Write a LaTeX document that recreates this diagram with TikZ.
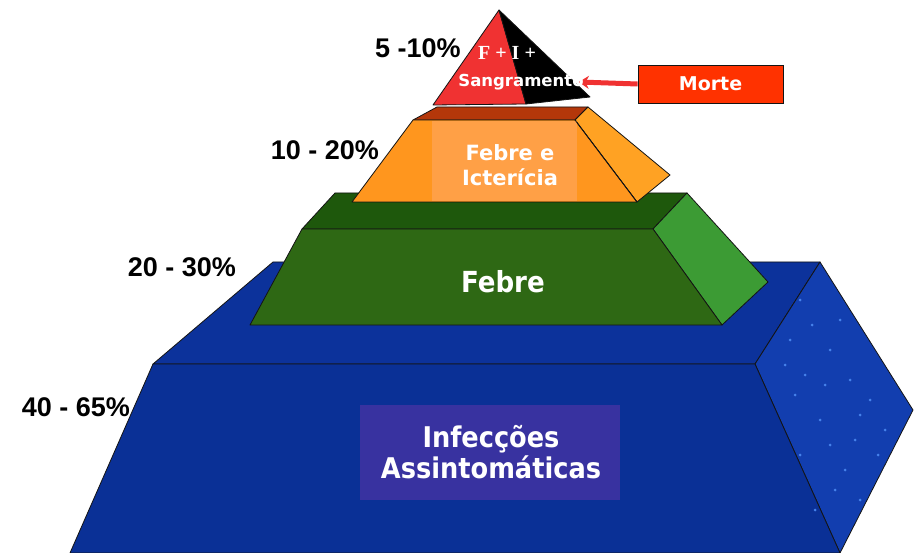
\documentclass[tikz,border=0pt]{standalone}
\usepackage{fontspec}
\setmainfont{Liberation Sans}
\newfontfamily\dvs{DejaVu Sans}
\newfontfamily\dvsc{DejaVu Sans Condensed}
\newfontfamily\lserif{Liberation Serif}
\usetikzlibrary{arrows.meta}
\pgfdeclarelayer{fg}
\pgfsetlayers{main,fg}
\definecolor{bluefront}{RGB}{10,48,150}
\definecolor{bluetop}{RGB}{12,50,155}
\definecolor{blueside}{RGB}{18,62,175}
\definecolor{bluedot}{RGB}{70,130,235}
\definecolor{infbox}{RGB}{56,50,160}
\definecolor{grfront}{RGB}{46,104,20}
\definecolor{grtop}{RGB}{30,88,12}
\definecolor{grside}{RGB}{60,155,52}
\definecolor{orfront}{RGB}{255,150,30}
\definecolor{orlight}{RGB}{255,160,70}
\definecolor{orside}{RGB}{255,162,35}
\definecolor{ortop}{RGB}{180,55,10}
\definecolor{trired}{RGB}{240,50,50}
\definecolor{mortered}{RGB}{255,50,0}
\definecolor{edge}{RGB}{20,20,20}
\tikzset{
  face/.style={draw=edge, line width=0.8pt, line join=round},
  pct/.style={font=\bfseries\fontsize{27}{30}\selectfont, text=black, inner sep=0pt},
  wlabel/.style={text=white, inner sep=0pt, align=center},
}
\begin{document}
\begin{tikzpicture}[x=1pt,y=-1pt]
\useasboundingbox (0,0) rectangle (915,553);
\fill[white] (0,0) rectangle (915,553);
% ---- blue block
\fill[face, fill=bluetop] (273,262) -- (820,262) -- (755,364) -- (153,364) -- cycle;
\fill[face, fill=blueside] (820,262) -- (913,410) -- (840,553) -- (755,364) -- cycle;
\fill[face, fill=bluefront] (153,364) -- (755,364) -- (840,553) -- (70,553) -- cycle;
\foreach \p in {(800,300),(812,325),(790,340),(830,350),(850,380),(795,395),(870,400),(820,420),(885,430),(800,455),(845,470),(860,500),(815,510),(830,445),(878,455),(805,375),(840,320),(860,415),(785,365),(825,385),(855,440),(835,490)}
  \fill[bluedot] \p circle (1.5);
% ---- green block
\fill[face, fill=grtop] (335,193) -- (687,193) -- (653,229) -- (302,229) -- cycle;
\fill[face, fill=grside] (687,193) -- (768,282) -- (722,325) -- (653,229) -- cycle;
\fill[face, fill=grfront] (302,229) -- (653,229) -- (722,325) -- (250,325) -- cycle;
% ---- orange block
\fill[face, fill=ortop] (437,107) -- (588,107) -- (575,120) -- (413,120) -- cycle;
\fill[face, fill=orside] (588,107) -- (670,175) -- (637,202) -- (575,120) -- cycle;
\fill[face, fill=orfront] (413,120) -- (575,120) -- (637,202) -- (352,202) -- cycle;
\fill[orlight] (432,121) rectangle (577,201.5);
\draw[face] (575,120) -- (637,202);
% ---- top triangle
\fill[face, fill=trired] (499,10) -- (526,104) -- (433,105) -- cycle;
\fill[face, fill=black] (499,10) -- (590,97) -- (526,104) -- cycle;
% ---- box behind asymptomatic text
\fill[infbox] (360,405) rectangle (620,500);
% ---- texts
\node[wlabel, font=\dvsc\bfseries\fontsize{28.5}{31}\selectfont] (inf) at (491,452) {Infecções\\Assintomáticas};
\node[wlabel, font=\dvsc\bfseries\fontsize{29}{32}\selectfont] (febre) at (503,282) {Febre};
\node[wlabel, font=\dvs\bfseries\fontsize{21}{25}\selectfont] (icter) at (510,165) {Febre e\\Icterícia};
\node[wlabel, font=\lserif\bfseries\fontsize{20}{22}\selectfont] (fi) at (507,53) {F + I +};
\begin{pgfonlayer}{fg}
\node[wlabel, font=\dvs\bfseries\fontsize{16.5}{18}\selectfont] (sang) at (521,82) {Sangramento};
\end{pgfonlayer}
\node[draw=edge, line width=0.8pt, fill=mortered, minimum width=145pt, minimum height=38pt, inner sep=0pt,
      text=white, font=\dvs\bfseries\fontsize{19}{22}\selectfont] (morte) at (710.5,84) {Morte};
\draw[trired, line width=5pt, -{Stealth[length=10pt,width=13pt]}] (morte.west) -- ([xshift=-5pt]sang.east);
% ---- percentage labels
\node[pct] (p1) at (418,48) {5 -10\%};
\node[pct] (p2) at (325,150) {10 - 20\%};
\node[pct] (p3) at (182,267) {20 - 30\%};
\node[pct] (p4) at (76,407) {40 - 65\%};
\end{tikzpicture}
\end{document}
